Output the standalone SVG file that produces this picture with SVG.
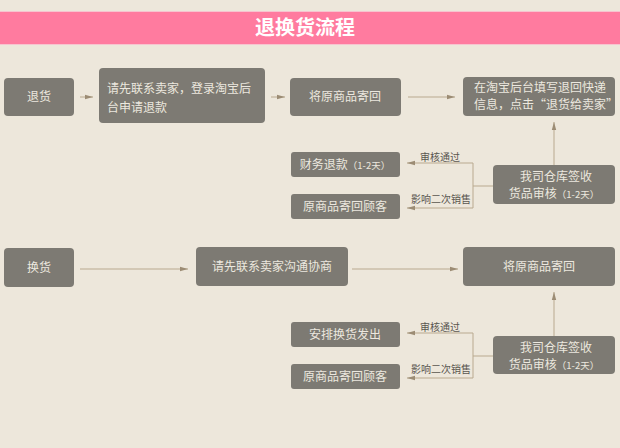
<svg xmlns="http://www.w3.org/2000/svg" width="620" height="448" viewBox="0 0 620 448">
<defs>
<style>
.n{fill:#7d7a73;}
.t{fill:#ece8df;font-family:"Noto Sans CJK SC","Noto Sans",sans-serif;font-size:12px;}
.c{text-anchor:middle;}
.s{font-size:9.5px;}
.l{fill:none;stroke:#b9a98f;stroke-width:1;}
.lb{fill:#5a564f;font-family:"Noto Sans CJK SC","Noto Sans",sans-serif;font-size:10px;}
</style>
<marker id="ah" viewBox="0 0 8 6" refX="8" refY="3" markerWidth="8" markerHeight="6" orient="auto" markerUnits="userSpaceOnUse">
<path d="M0,0.8 L8,3 L0,5.2 Z" fill="#9c8c74"/>
</marker>
</defs>
<rect width="620" height="448" fill="#ede7db"/>
<rect x="0" y="11" width="620" height="34" fill="#ff7b9f"/>
<line x1="0" y1="11.5" x2="620" y2="11.5" stroke="#f7c4cf"/>
<line x1="0" y1="44.5" x2="620" y2="44.5" stroke="#f7c4cf"/>
<text x="305" y="35" text-anchor="middle" fill="#ffffff" font-family="'Noto Sans CJK SC','Noto Sans',sans-serif" font-size="20" font-weight="bold">退换货流程</text>

<g id="connectors">
<line class="l" x1="80" y1="97" x2="93" y2="97" marker-end="url(#ah)"/>
<line class="l" x1="271" y1="97" x2="285" y2="97" marker-end="url(#ah)"/>
<line class="l" x1="408" y1="97" x2="455" y2="97" marker-end="url(#ah)"/>
<line class="l" x1="554" y1="165" x2="554" y2="122" marker-end="url(#ah)"/>
<polyline class="l" points="493,186 473,186"/>
<line class="l" x1="473" y1="163" x2="473" y2="208"/>
<line class="l" x1="473" y1="163" x2="407" y2="163" marker-end="url(#ah)"/>
<line class="l" x1="473" y1="208" x2="407" y2="208" marker-end="url(#ah)"/>
<text class="lb" x="420" y="161">审核通过</text>
<text class="lb" x="411" y="203">影响二次销售</text>

<line class="l" x1="80" y1="269" x2="188" y2="269" marker-end="url(#ah)"/>
<line class="l" x1="352" y1="269" x2="458" y2="269" marker-end="url(#ah)"/>
<line class="l" x1="554" y1="336" x2="554" y2="292" marker-end="url(#ah)"/>
<polyline class="l" points="493,356 473,356"/>
<line class="l" x1="473" y1="333" x2="473" y2="378"/>
<line class="l" x1="473" y1="333" x2="407" y2="333" marker-end="url(#ah)"/>
<line class="l" x1="473" y1="378" x2="407" y2="378" marker-end="url(#ah)"/>
<text class="lb" x="420" y="331">审核通过</text>
<text class="lb" x="411" y="373">影响二次销售</text>
</g>

<g id="n_tuihuo"><rect class="n" x="4" y="78" width="70" height="38" rx="4"/><text class="t c" x="39" y="101">退货</text></g>
<g id="n_qingxian1"><rect class="n" x="99" y="68" width="166" height="55" rx="4"/><text class="t" x="107" y="93" font-size="12.5">请先联系卖家，登录淘宝后</text><text class="t" x="107" y="112" font-size="12.5">台申请退款</text></g>
<g id="n_jiang1"><rect class="n" x="290" y="78" width="111" height="38" rx="4"/><text class="t c" x="345" y="101">将原商品寄回</text></g>
<g id="n_taobao"><rect class="n" x="463" y="77" width="152" height="39" rx="4"/><text class="t" x="474" y="92" font-size="11.5">在淘宝后台填写退回快递</text><text class="t" x="474" y="109" font-size="11.5">信息，点击“退货给卖家”</text></g>
<g id="n_caiwu"><rect class="n" x="291" y="152" width="109" height="25" rx="3"/><text class="t c" x="345" y="169">财务退款<tspan class="s">（1-2天）</tspan></text></g>
<g id="n_yuan1"><rect class="n" x="291" y="194" width="109" height="25" rx="3"/><text class="t c" x="345" y="211">原商品寄回顾客</text></g>
<g id="n_wosi1"><rect class="n" x="493" y="165" width="122" height="39" rx="4"/><text class="t c" x="556" y="181">我司仓库签收</text><text class="t c" x="554" y="198">货品审核<tspan class="s">（1-2天）</tspan></text></g>

<g id="n_huanhuo"><rect class="n" x="4" y="248" width="70" height="39" rx="4"/><text class="t c" x="39" y="272">换货</text></g>
<g id="n_qingxian2"><rect class="n" x="196" y="247" width="152" height="39" rx="4"/><text class="t c" x="272" y="271">请先联系卖家沟通协商</text></g>
<g id="n_jiang2"><rect class="n" x="463" y="247" width="152" height="39" rx="4"/><text class="t c" x="539" y="271">将原商品寄回</text></g>
<g id="n_anpai"><rect class="n" x="291" y="322" width="109" height="25" rx="3"/><text class="t c" x="345" y="339">安排换货发出</text></g>
<g id="n_yuan2"><rect class="n" x="291" y="364" width="109" height="25" rx="3"/><text class="t c" x="345" y="381">原商品寄回顾客</text></g>
<g id="n_wosi2"><rect class="n" x="493" y="336" width="122" height="38" rx="4"/><text class="t c" x="556" y="352">我司仓库签收</text><text class="t c" x="554" y="369">货品审核<tspan class="s">（1-2天）</tspan></text></g>
</svg>
